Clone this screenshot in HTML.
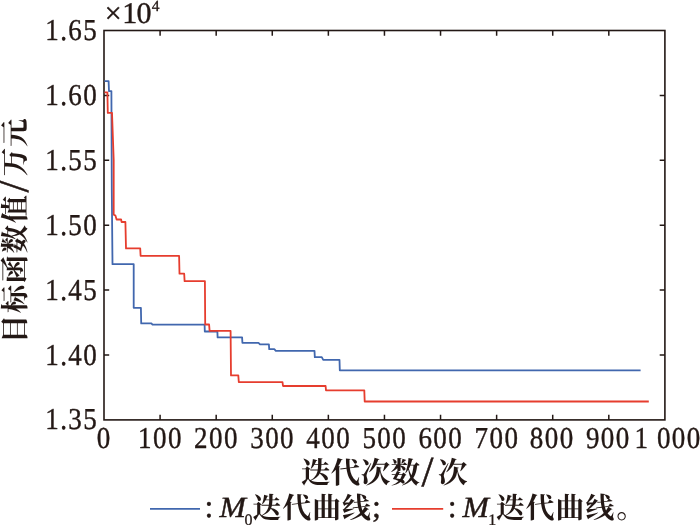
<!DOCTYPE html>
<html lang="zh-CN">
<head>
<meta charset="utf-8">
<title>迭代曲线</title>
<style>
html,body{margin:0;padding:0;background:#fff;}
body{width:700px;height:525px;overflow:hidden;}
svg{display:block;}
text{fill:#231815;text-rendering:geometricPrecision;}
.num{font-family:"Liberation Serif","Noto Serif CJK SC",serif;font-size:30.4px;letter-spacing:1.6px;stroke:#231815;stroke-width:0.4px;stroke-linejoin:round;}
.sub{font-family:"Liberation Serif","Noto Serif CJK SC",serif;font-size:16px;letter-spacing:0;stroke:#231815;stroke-width:0.3px;}
.it{font-family:"Liberation Serif","Noto Serif CJK SC",serif;font-size:30.5px;font-style:italic;stroke:#231815;stroke-width:0.45px;}
.pun{font-family:"Liberation Serif","Noto Serif CJK SC",serif;font-size:32px;stroke:#231815;stroke-width:0.4px;}
.sl{font-family:"Liberation Serif","Noto Serif CJK SC",serif;font-size:43px;stroke:#231815;stroke-width:0.5px;}
.cjk{font-family:"Liberation Serif","Noto Serif CJK SC",serif;font-size:29.5px;font-weight:700;letter-spacing:0.4px;}
</style>
</head>
<body>
<svg width="700" height="525" viewBox="0 0 700 525">
<rect x="0" y="0" width="700" height="525" fill="#ffffff"/>
<rect x="104.0" y="30.5" width="560.9" height="389.4" fill="none" stroke="#231815" stroke-width="1.6"/>
<path d="M160.09 419.90v-5.2M160.09 30.50v5.2M216.18 419.90v-5.2M216.18 30.50v5.2M272.27 419.90v-5.2M272.27 30.50v5.2M328.36 419.90v-5.2M328.36 30.50v5.2M384.45 419.90v-5.2M384.45 30.50v5.2M440.54 419.90v-5.2M440.54 30.50v5.2M496.63 419.90v-5.2M496.63 30.50v5.2M552.72 419.90v-5.2M552.72 30.50v5.2M608.81 419.90v-5.2M608.81 30.50v5.2M104.00 355.00h5.2M664.90 355.00h-5.2M104.00 290.10h5.2M664.90 290.10h-5.2M104.00 225.20h5.2M664.90 225.20h-5.2M104.00 160.30h5.2M664.90 160.30h-5.2M104.00 95.40h5.2M664.90 95.40h-5.2" fill="none" stroke="#231815" stroke-width="1.5"/>
<polyline points="104.5,81.1 108.6,81.1 109.0,91.1 111.4,91.1 111.8,190.0 112.5,264.2 133.7,264.2 133.7,307.8 140.9,307.8 141.2,323.4 151.4,323.4 152.5,324.6 204.6,324.6 204.8,331.5 217.4,331.5 217.6,337.4 242.1,337.4 242.4,342.8 258.5,342.8 260.0,344.3 268.9,344.3 269.2,349.1 274.3,349.1 275.8,350.8 314.5,350.8 314.8,357.1 321.8,357.1 323.2,359.8 339.5,359.8 339.8,370.3 640.6,370.3" fill="none" stroke="#4167ae" stroke-width="1.8" stroke-linejoin="round"/>
<polyline points="104.5,92.3 107.4,92.3 107.8,112.9 112.0,112.9 113.7,160.0 113.7,214.6 115.4,215.5 116.6,219.5 121.1,219.5 121.6,222.0 125.4,222.0 126.0,248.4 140.2,248.4 140.6,255.8 179.1,255.8 179.5,273.7 184.2,273.7 184.6,281.1 204.9,281.1 205.2,324.5 209.1,324.5 209.6,330.9 230.6,330.9 231.0,375.4 238.3,375.4 238.8,382.2 282.5,382.2 283.0,386.0 325.6,386.0 326.0,390.4 364.3,390.4 364.7,401.5 648.8,401.5" fill="none" stroke="#e63d2e" stroke-width="1.8" stroke-linejoin="round"/>
<g class="num">
<text transform="translate(45.2 429.4) scale(0.89 1)">1.35</text>
<text transform="translate(45.2 364.5) scale(0.89 1)">1.40</text>
<text transform="translate(45.2 299.6) scale(0.89 1)">1.45</text>
<text transform="translate(45.2 234.7) scale(0.89 1)">1.50</text>
<text transform="translate(45.2 169.8) scale(0.89 1)">1.55</text>
<text transform="translate(45.2 104.9) scale(0.89 1)">1.60</text>
<text transform="translate(45.2 40.0) scale(0.89 1)">1.65</text>
<text transform="translate(104.2 448.3) scale(0.89 1)" text-anchor="middle">0</text>
<text transform="translate(160.4 448.3) scale(0.89 1)" text-anchor="middle">100</text>
<text transform="translate(216.5 448.3) scale(0.89 1)" text-anchor="middle">200</text>
<text transform="translate(272.6 448.3) scale(0.89 1)" text-anchor="middle">300</text>
<text transform="translate(328.7 448.3) scale(0.89 1)" text-anchor="middle">400</text>
<text transform="translate(384.8 448.3) scale(0.89 1)" text-anchor="middle">500</text>
<text transform="translate(440.8 448.3) scale(0.89 1)" text-anchor="middle">600</text>
<text transform="translate(496.9 448.3) scale(0.89 1)" text-anchor="middle">700</text>
<text transform="translate(552.2 448.3) scale(0.89 1)" text-anchor="middle">800</text>
<text transform="translate(608.3 448.3) scale(0.89 1)" text-anchor="middle">900</text>
<text transform="translate(634.6 448.3) scale(0.89 1)">1</text><text transform="translate(656.9 448.3) scale(0.89 1)">000</text>
<text x="104.8" y="22.9" style="font-size:30px">×</text>
<text x="122.2" y="22.6" style="font-size:30px;letter-spacing:-0.6px">10</text>
<text x="151.8" y="11.2" class="sub" style="font-size:15.5px">4</text>
</g>
<g transform="translate(25.0 0) rotate(-90)">
<text class="cjk" x="-343.2" y="0" style="font-size:28.5px;letter-spacing:1.4px">目标函数值</text>
<text class="sl" x="-192.4" y="2.6">/</text>
<text class="cjk" x="-176.2" y="0" style="font-size:28.5px;letter-spacing:0.6px">万元</text>
</g>
<text class="cjk" x="300.9" y="483.2">迭代次数</text>
<text class="sl" x="421.6" y="485.6">/</text>
<text class="cjk" x="438.0" y="483.2">次</text>
<line x1="150" y1="508.9" x2="200" y2="508.9" stroke="#4167ae" stroke-width="1.8"/>
<line x1="392" y1="508.9" x2="443.2" y2="508.9" stroke="#e63d2e" stroke-width="1.8"/>
<text x="204.5" y="517.3" class="pun">:</text>
<text transform="translate(219.6 517.3) scale(1.04 0.96)" class="it">M</text>
<text x="244.6" y="524.6" class="sub">0</text>
<text x="252.6" y="518.2" class="cjk" style="font-size:28.8px;letter-spacing:1px">迭代曲线</text>
<text x="372" y="517.3" class="pun">;</text>
<text x="447.8" y="517.3" class="pun">:</text>
<text transform="translate(462.6 517.3) scale(1.04 0.96)" class="it">M</text>
<text x="488.2" y="524.6" class="sub">1</text>
<text x="496.0" y="518.2" class="cjk" style="font-size:28.8px;letter-spacing:1px">迭代曲线</text>
<text x="616.3" y="518.3" class="cjk">。</text>
</svg>
</body>
</html>
